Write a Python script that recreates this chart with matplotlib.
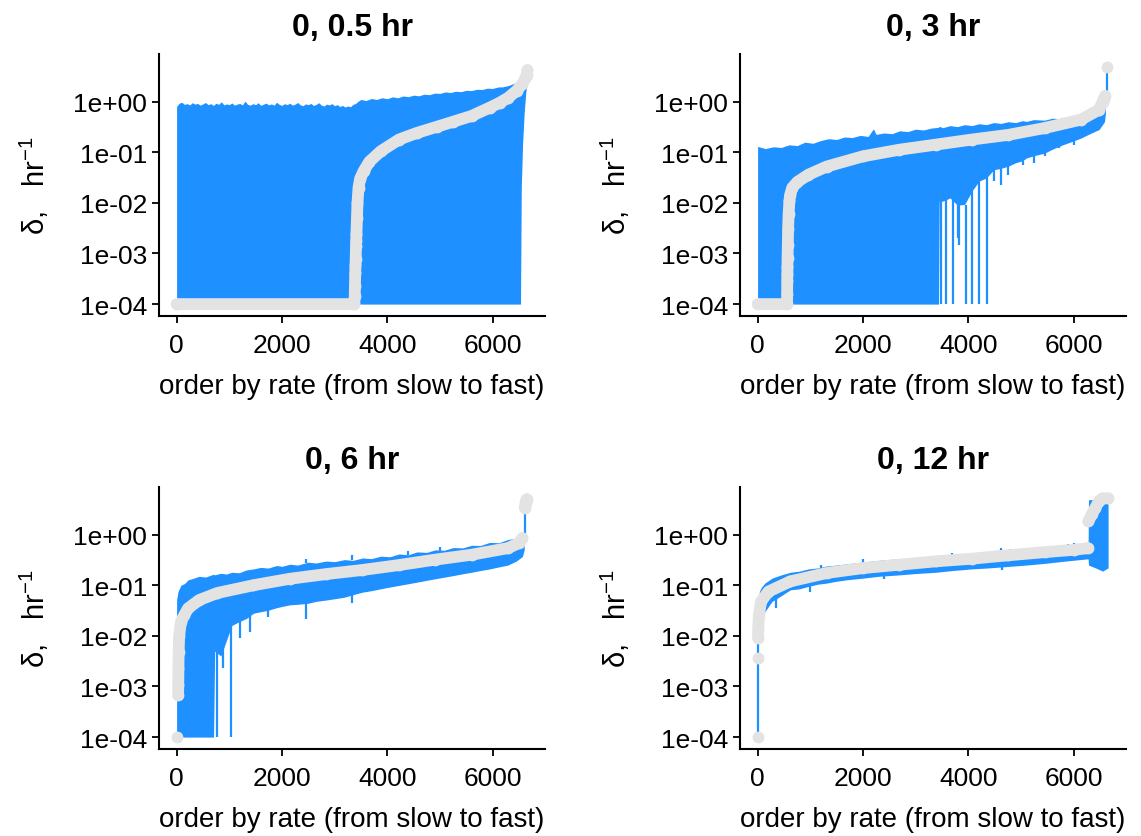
import numpy as np
import matplotlib
matplotlib.use("Agg")
import matplotlib.pyplot as plt

plt.rcParams['font.family'] = ['Liberation Sans', 'DejaVu Sans']
plt.rcParams['mathtext.fontset'] = 'custom'
plt.rcParams['mathtext.rm'] = 'Liberation Sans'
plt.rcParams['mathtext.it'] = 'Liberation Sans:italic'

BLUE = '#1E90FF'
GRAY = '#E3E3E3'
nan = float('nan')

titles = ["0, 0.5 hr", "0, 3 hr", "0, 6 hr", "0, 12 hr"]
x_ticks = [0, 2000, 4000, 6000]
y_ticks = [1e-4, 1e-3, 1e-2, 1e-1, 1e0]
y_tick_labels = ["1e-04", "1e-03", "1e-02", "1e-01", "1e+00"]

# ---------------- panel 1 : 0, 0.5 hr ----------------
p1_rank = [1, 3375, 3383, 3387, 3393, 3397, 3401, 3407, 3411, 3415, 3425, 3435, 3455,
           3485, 3550, 3660, 3879, 4223, 4560, 4950, 5250, 5600, 5945, 6135, 6300,
           6458, 6560, 6620, 6648, 6662]
p1_rate = [1e-4, 1e-4, 1.45e-4, 2.3e-4, 4.2e-4, 5.8e-4, 7.8e-4, 1.4e-3, 1.8e-3, 2.4e-3,
           5e-3, 1e-2, 2e-2, 3e-2, 4.2e-2, 6.5e-2, 0.105, 0.178, 0.24, 0.32, 0.40, 0.52,
           0.76, 0.95, 1.2, 1.65, 2.2, 2.9, 3.4, 4.2]
p1_bar_rank = [1, 50, 100, 150, 200, 250, 300, 350, 400, 450, 500, 550, 600, 650, 700,
               750, 800, 850, 900, 950, 1000, 1050, 1100, 1150, 1200, 1250, 1300, 1350,
               1400, 1450, 1500, 1550, 1600, 1650, 1700, 1750, 1800, 1850, 1900, 1950,
               2000, 2050, 2100, 2150, 2200, 2250, 2300, 2350, 2400, 2450, 2500, 2550,
               2600, 2650, 2700, 2750, 2800, 2850, 2900, 2950, 3000, 3050, 3100, 3150,
               3200, 3250, 3300, 3350,
               3400, 3450, 3500, 3600, 3700, 3800, 3900, 4000, 4100, 4200, 4300, 4400,
               4500, 4600, 4700, 4800, 4900, 5000, 5100, 5200, 5300, 5400, 5500, 5600,
               5700, 5800, 5900, 6000, 6100, 6200, 6300, 6400, 6480, 6530,
               6545, 6570, 6600, 6630, 6655]
p1_bar_hi = [0.80, 0.93, 0.97, 0.88, 0.91, 0.86, 0.95, 0.89, 0.92, 0.85, 0.90, 0.96,
             0.87, 0.91, 0.84, 0.93, 0.88, 0.99, 0.86, 0.90, 0.87, 0.94, 0.85, 0.89,
             0.92, 0.86, 1.02, 0.88, 0.85, 0.91, 0.87, 0.95, 0.84, 0.89, 0.93, 0.86,
             0.90, 0.85, 0.97, 0.88, 0.84, 0.91, 0.87, 0.93, 0.85, 0.89, 0.96, 0.86,
             0.83, 0.90, 0.87, 0.92, 0.84, 0.88, 0.95, 0.85, 0.82, 0.89, 0.86, 0.91,
             0.83, 0.87, 0.80, 0.84, 0.78, 0.82, 0.79, 0.88,
             0.92, 1.02, 1.10, 1.05, 1.15, 1.10, 1.19, 1.14, 1.24, 1.19, 1.29, 1.25,
             1.34, 1.30, 1.40, 1.37, 1.47, 1.45, 1.55, 1.51, 1.60, 1.57, 1.67, 1.65,
             1.75, 1.73, 1.84, 1.82, 1.94, 1.96, 2.08, 2.28, 2.50, 2.75,
             2.90, 3.20, 3.70, 4.30, 5.00]
p1_bar_lo = [1e-4] * 102 + [0.02, 0.15, 0.6, 1.5, 2.5]

# ---------------- panel 2 : 0, 3 hr ----------------
p2_rank = [1, 560, 562, 564, 566, 568, 570, 575, 580, 590, 605, 620, 660, 758, 966,
           1310, 2000, 2690, 3380, 4069, 4759, 5448, 6138, 6483, 6552, 6575, 6600,
           nan, 6630]
p2_rate = [1e-4, 1e-4, 1.6e-4, 2.9e-4, 4e-4, 5.5e-4, 8e-4, 1.5e-3, 3e-3, 6e-3, 1.1e-2,
           1.45e-2, 2.0e-2, 2.6e-2, 3.6e-2, 5.2e-2, 8.3e-2, 0.112, 0.141, 0.178, 0.22,
           0.30, 0.44, 0.69, 1.0, 1.15, 1.3, nan, 4.9]
p2_bar_rank = [1, 150, 300, 450, 600, 750, 900, 1050, 1200, 1350, 1500, 1650, 1800,
               1950, 2100, 2200, 2250, 2400, 2550, 2700, 2850, 3000, 3150, 3300, 3435,
               3449, 3517, 3655, 3793, 3931, 4069, 4207, 4345, 4483, 4621, 4759, 4900,
               5035, 5104, 5242, 5448, 5600, 5793, 5950, 6138, 6300, 6483, 6586, 6605]
p2_bar_hi = [0.130, 0.118, 0.128, 0.124, 0.140, 0.135, 0.158, 0.150, 0.170, 0.185,
             0.178, 0.200, 0.195, 0.215, 0.205, 0.290, 0.225, 0.240, 0.232, 0.265,
             0.255, 0.285, 0.275, 0.300, 0.310, 0.325, 0.305, 0.335, 0.320, 0.350,
             0.335, 0.365, 0.350, 0.385, 0.370, 0.400, 0.385, 0.420, 0.405, 0.440,
             0.430, 0.470, 0.455, 0.520, 0.500, 0.620, 0.720, 0.860, 1.20]
p2_bar_lo = [1e-4] * 25 + [0.0108, 0.0108, 0.0125, 0.009, 0.0093, 0.017, 0.027, 0.031,
                           0.045, 0.048, 0.053, 0.062, 0.068, 0.077, 0.085, 0.096,
                           0.115, 0.14, 0.16, 0.19, 0.23, 0.28, 0.40, 0.6]
p2_spike_rank = [3483, 3586, 3704, 3800, 3828, 3966, 4069, 4207, 4359,
                 4483, 4621, 4759, 5035, 5242, 5448, 5724, 6000, 6276, 6630]
p2_spike_lo = [1e-4, 1e-4, 1e-4, 2e-3, 1.5e-3, 1e-4, 1e-4, 1e-4, 1e-4,
               0.027, 0.023, 0.036, 0.057, 0.061, 0.083, 0.12, 0.14, 0.22, 1.0]
p2_spike_hi = [0.011, 0.012, 0.012, 0.009, 0.009, 0.009, 0.017, 0.027, 0.033,
               0.045, 0.048, 0.053, 0.068, 0.085, 0.096, 0.14, 0.17, 0.25, 4.9]

# ---------------- panel 3 : 0, 6 hr ----------------
p3_rank = [5, nan, 30, 33, 36, 40, 50, 83, 150, 220, 430, 770, 1460, 2150, 2840, 3530,
           4220, 4910, 5600, 6290, 6500, 6566, nan, 6610, 6625, 6640, 6650]
p3_rate = [1e-4, nan, 6.7e-4, 1.05e-3, 2.3e-3, 4.9e-3, 1.0e-2, 0.019, 0.026, 0.035,
           0.051, 0.070, 0.10, 0.134, 0.166, 0.20, 0.25, 0.32, 0.40, 0.54, 0.68, 0.86,
           nan, 3.4, 4.2, 4.9, 5.0]
p3_bar_rank = [1, 28, 83, 152, 221, 300, 428, 550, 703, 724, 841, 945, 1048, 1186, 1324,
               1462, 1600, 1738, 1900, 2000, 2152, 2300, 2497, 2650, 2841, 3000, 3186,
               3350, 3531, 3700, 3876, 4050, 4221, 4400, 4566, 4750, 4911, 5080, 5255,
               5430, 5600, 5770, 5945, 6120, 6290, 6450, 6566, 6600]
p3_bar_hi = [0.051, 0.075, 0.100, 0.108, 0.128, 0.135, 0.150, 0.145, 0.165, 0.160,
             0.172, 0.166, 0.180, 0.176, 0.200, 0.210, 0.225, 0.218, 0.245, 0.236,
             0.260, 0.250, 0.285, 0.275, 0.300, 0.292, 0.320, 0.310, 0.345, 0.335,
             0.375, 0.365, 0.414, 0.400, 0.455, 0.445, 0.500, 0.490, 0.555, 0.545,
             0.615, 0.610, 0.700, 0.690, 0.800, 0.850, 1.080, 1.200]
p3_bar_lo = [1e-4] * 9 + [0.005, 0.004, 0.008, 0.016, 0.019, 0.022, 0.028, 0.030, 0.032,
                          0.036, 0.038, 0.041, 0.042, 0.044, 0.048, 0.051, 0.054, 0.058,
                          0.065, 0.073, 0.078, 0.085, 0.092, 0.099, 0.107, 0.115, 0.125,
                          0.134, 0.144, 0.155, 0.168, 0.18, 0.195, 0.21, 0.23, 0.25,
                          0.30, 0.37, 0.50]
p3_spike_rank = [772, 876, 1028, 1200, 1400, 1738, 2462, 3324, 2462, 3324, 4400, 5000,
                 6615]
p3_spike_lo = [1e-4, 2.3e-3, 1e-4, 0.009, 0.012, 0.024, 0.022, 0.045, 0.27, 0.31, 0.40,
               0.48, 0.9]
p3_spike_hi = [0.006, 0.006, 0.016, 0.02, 0.025, 0.033, 0.044, 0.064, 0.33, 0.39, 0.47,
               0.56, 3.5]

# ---------------- panel 4 : 0, 12 hr ----------------
p4_rank = [3, nan, 6, nan, 10, 14, 25, 69, 207, 621, 1310, 2000, 2690, 3380, 4069, 4759,
           5448, 6000, 6276, nan, 6283, 6345, 6414, 6483, 6550, 6650]
p4_rate = [1e-4, nan, 3.7e-3, nan, 9e-3, 1.4e-2, 2.6e-2, 0.048, 0.075, 0.119, 0.174,
           0.218, 0.254, 0.296, 0.334, 0.39, 0.45, 0.50, 0.54, nan, 1.84, 2.5, 3.4, 4.6,
           5.2, 5.2]
p4_bar_rank = [14, 34, 69, 138, 276, 450, 621, 800, 966, 1150, 1310, 1500, 1700, 2000,
               2300, 2690, 3000, 3380, 3700, 4069, 4400, 4759, 5100, 5448, 5850, 6242,
               6276, 6283, 6414, 6552, 6655]
p4_bar_hi = [0.03, 0.075, 0.09, 0.11, 0.138, 0.16, 0.18, 0.19, 0.21, 0.22, 0.24, 0.25,
             0.265, 0.287, 0.31, 0.334, 0.35, 0.372, 0.39, 0.414, 0.44, 0.467, 0.50,
             0.544, 0.60, 0.65, 0.65, 4.9, 4.9, 4.9, 4.9]
p4_bar_lo = [0.012, 0.016, 0.019, 0.03, 0.048, 0.062, 0.081, 0.085, 0.095, 0.105, 0.11,
             0.12, 0.128, 0.138, 0.15, 0.16, 0.17, 0.18, 0.195, 0.21, 0.22, 0.235, 0.25,
             0.27, 0.30, 0.33, 0.33, 0.25, 0.22, 0.19, 0.22]
p4_spike_rank = [5, 350, 1000, 2400, 4650, 4621, 4790, 3700, 2000, 1200, 5900, 6000]
p4_spike_lo = [1.1e-4, 0.035, 0.075, 0.13, 0.2, 0.44, 0.46, 0.38, 0.28, 0.21, 0.58, 0.62]
p4_spike_hi = [0.01, 0.06, 0.1, 0.16, 0.24, 0.54, 0.52, 0.44, 0.33, 0.25, 0.66, 0.68]

panels = [
    (p1_rank, p1_rate, p1_bar_rank, p1_bar_lo, p1_bar_hi, [], [], []),
    (p2_rank, p2_rate, p2_bar_rank, p2_bar_lo, p2_bar_hi, p2_spike_rank, p2_spike_lo, p2_spike_hi),
    (p3_rank, p3_rate, p3_bar_rank, p3_bar_lo, p3_bar_hi, p3_spike_rank, p3_spike_lo, p3_spike_hi),
    (p4_rank, p4_rate, p4_bar_rank, p4_bar_lo, p4_bar_hi, p4_spike_rank, p4_spike_lo, p4_spike_hi),
]

W, H = 1141, 837
fig = plt.figure(figsize=(W / 100, H / 100), dpi=100)
boxes = [(159, 55), (740, 55), (159, 488), (740, 488)]  # (left, top) in px
aw, ah = 386, 262

for i, (box, pdata) in enumerate(zip(boxes, panels)):
    l, t = box
    ax = fig.add_axes([l / W, 1 - (t + ah) / H, aw / W, ah / H])
    rank, rate, br, blo, bhi, sr, slo, shi = pdata
    ax.fill_between(br, blo, bhi, color=BLUE, lw=0, zorder=1)
    if len(sr):
        ax.vlines(sr, slo, shi, color=BLUE, lw=1.6, zorder=1)
    ax.plot(rank, rate, '-o', color=GRAY, lw=8.5, ms=8.5, mew=0,
            solid_capstyle='round', zorder=2)
    ax.set_yscale('log')
    ax.set_xlim(-333, 6995)
    ax.set_ylim(10 ** -4.235, 10 ** 0.94)
    ax.set_xticks(x_ticks)
    ax.set_xticklabels([str(v) for v in x_ticks])
    ax.set_yticks(y_ticks)
    ax.set_yticklabels(y_tick_labels)
    ax.yaxis.set_minor_locator(matplotlib.ticker.NullLocator())
    for s in ['top', 'right']:
        ax.spines[s].set_visible(False)
    for s in ['left', 'bottom']:
        ax.spines[s].set_linewidth(1.5)
    ax.tick_params(axis='both', which='major', length=5, width=1.3, labelsize=19,
                   colors='black')
    ax.tick_params(axis='x', pad=7.5)
    ax.tick_params(axis='y', pad=3.6)
    ax.set_title(titles[i], fontsize=23, fontweight='bold', pad=14)
    ax.set_xlabel("order by rate (from slow to fast)", fontsize=20, labelpad=11)
    ax.set_ylabel(r"δ,   hr$^{-1}$", fontsize=21, labelpad=16)

fig.savefig("out.png", dpi=100)
